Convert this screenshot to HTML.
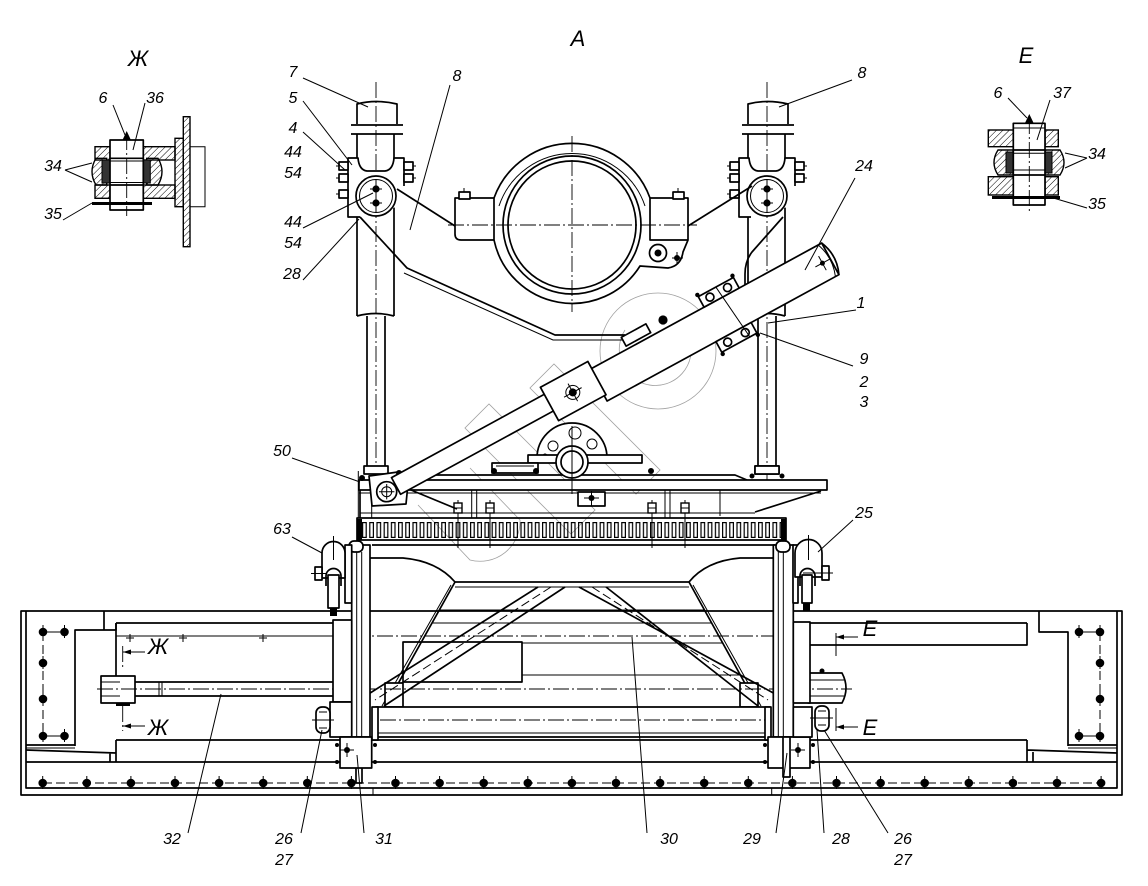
<!DOCTYPE html>
<html><head><meta charset="utf-8"><title>drawing</title>
<style>
html,body{margin:0;padding:0;background:#fff;width:1148px;height:886px;overflow:hidden}
svg{display:block}
.m{stroke:#000;stroke-width:1.7;fill:none;stroke-linejoin:round}
.mw{stroke:#000;stroke-width:1.7;fill:#fff;stroke-linejoin:round}
.t{stroke:#000;stroke-width:1;fill:none}
.tw{stroke:#000;stroke-width:1;fill:#fff}
.c{stroke:#000;stroke-width:0.9;fill:none;stroke-dasharray:16 3 2 3}
.d{stroke:#000;stroke-width:1;fill:none;stroke-dasharray:9 4}
.hx{stroke:#000;stroke-width:1.4;fill:url(#h)}
.bk{fill:#000;stroke:none}
.wm{stroke:#a0a0a0;stroke-width:0.8;fill:none}
text{font-family:"Liberation Sans","DejaVu Sans",sans-serif;font-style:italic;fill:#000;text-anchor:middle}
.n{font-size:16px}
.v{font-size:22px}
</style></head><body>
<svg width="1148" height="886" viewBox="0 0 1148 886" xmlns="http://www.w3.org/2000/svg">
<defs>
<pattern id="h" width="4.5" height="4.5" patternUnits="userSpaceOnUse" patternTransform="rotate(45)">
<line x1="0" y1="0" x2="0" y2="4.5" stroke="#000" stroke-width="1"/>
</pattern>
<pattern id="teeth" x="362" y="522" width="7.2" height="16" patternUnits="userSpaceOnUse">
<rect x="0.6" y="0.6" width="3.6" height="14.8" fill="none" stroke="#000" stroke-width="1.2"/>
</pattern>
<g id="bolt"><circle r="4.3" fill="#000"/><line x1="0" y1="-7" x2="0" y2="6" stroke="#000" stroke-width="1"/></g>
<g id="nut"><rect x="-4" y="-5" width="8" height="10" fill="#fff" stroke="#000" stroke-width="1.4"/><line x1="-4" y1="0" x2="4" y2="0" stroke="#000" stroke-width="1"/></g>
</defs>

<!-- ===== watermark (light) ===== -->
<g class="wm">
<circle cx="658" cy="351" r="58"/>
<path d="M625,330 A36,36 0 1 0 690,340"/>
<rect x="520" y="412" width="150" height="34" transform="rotate(45 595 429)"/>
<rect x="455" y="452" width="150" height="34" transform="rotate(45 530 469)"/>
<path d="M418,505 L470,560 A40,40 0 0 0 520,520 L470,468"/>
</g>

<!-- ===== left column ===== -->
<g id="colL">
<path class="c" d="M376,82 V484"/>
<path class="m" d="M357,124 V104 Q376,99 397,104 V124"/>
<path class="m" d="M351,125 H403 M351,134 H403"/>
<path class="m" d="M357,134 V316 M394,134 V316 M357,316 Q376,311 394,316"/>
<path class="m" d="M367,316 V466 M385,316 V466"/>
<rect class="mw" x="364" y="466" width="24" height="8"/>
<path fill="#fff" d="M348,217 V158 H358 Q359,170 367,171 H385 Q393,170 394,158 H404 V205 L360,217 Z"/>
<path class="m" d="M360,217 H348 V158 H358 Q359,170 367,171 H385 Q393,170 394,158 H404 V186"/>
<circle class="mw" cx="376" cy="196" r="20"/>
<circle class="t" cx="376" cy="196" r="16.5"/>
<circle class="bk" cx="376" cy="189" r="3.6"/>
<circle class="bk" cx="376" cy="203" r="3.6"/>
<path class="t" d="M370,189 H382 M370,203 H382 M376,180 V212"/>
<rect class="mw" x="339" y="162" width="9" height="8"/>
<rect class="mw" x="339" y="174" width="9" height="8"/>
<rect class="mw" x="339" y="190" width="9" height="8"/>
<rect class="mw" x="404" y="162" width="9" height="8"/>
<rect class="mw" x="404" y="174" width="9" height="8"/>
<path class="t" d="M336,166 H339 M336,178 H339 M336,194 H339 M413,166 H416 M413,178 H416"/>
</g>
<use href="#colL" transform="translate(391,0)"/>

<!-- ===== arm 8 ===== -->
<path class="m" d="M397,189 L455,226"/>
<path class="m" d="M360,217 L407,268 L555,335 H625"/>
<path class="t" d="M404,273 L553,340 H622"/>
<path class="m" d="M752,186 L688,226"/>
<path class="m" d="M783,217 L752,252 Q745,261 745,274 V298"/>

<!-- ===== pipe clamp ===== -->
<path class="mw" d="M494,198 A83,83 0 0 1 650,198"/>
<path class="t" d="M499,206 A77,77 0 0 1 645,206"/>
<circle class="mw" cx="572" cy="225" r="69"/>
<circle class="m" cx="572" cy="225" r="64"/>
<path class="mw" d="M494,198 H455 V234 Q455,240 461,240 H494 Z"/>
<path class="mw" d="M650,198 H688 V240 H650 Z"/>
<path class="m" d="M494,240 A80,80 0 0 0 640,266 L668,268 Q681,266 683,252 L688,240"/>
<rect class="mw" x="459" y="192" width="11" height="7"/>
<rect class="mw" x="673" y="192" width="11" height="7"/>
<path class="t" d="M464,188 V192 M678,188 V192"/>
<circle class="mw" cx="658" cy="253" r="8.5"/>
<circle class="bk" cx="658" cy="253" r="3.5"/>
<circle class="bk" cx="677" cy="258" r="3"/>
<path class="t" d="M672,258 H683 M677,252 V264"/>
<path class="c" d="M572,136 V312 M448,225 H697"/>

<!-- ===== turntable ===== -->
<path class="m" d="M405,475 H735 L747,480"/>
<path class="mw" d="M359,480 H827 V490 H359 Z"/>
<path class="t" d="M359,493 H821"/>
<path class="m" d="M360,490 V518 M821,491 L755,512"/>
<path class="t" d="M360,513 H755"/>
<path class="t" d="M471.7,490 V518 M476.7,490 V518 M665,490 V518 M670,490 V518 M720,490 V516"/>
<rect class="mw" x="578" y="492" width="27" height="14"/>
<circle class="bk" cx="591.5" cy="498" r="3"/>
<path class="t" d="M584,498 H599 M591.5,491 V506"/>
<!-- gearbox -->
<path class="mw" d="M537,458 A35,35 0 0 1 607,458 Z"/>
<circle class="t" cx="553" cy="446" r="5"/>
<circle class="t" cx="575" cy="433" r="6"/>
<circle class="t" cx="592" cy="444" r="5"/>
<circle class="bk" cx="545" cy="456" r="2.5"/>
<rect class="mw" x="528" y="455" width="114" height="8"/>
<circle class="mw" cx="572" cy="462" r="16"/>
<circle class="m" cx="572" cy="462" r="11"/>
<rect class="mw" x="492" y="463" width="46" height="10"/>
<path class="t" d="M496,466 H534"/>
<circle class="bk" cx="494" cy="471" r="3"/>
<circle class="bk" cx="536" cy="471" r="3"/>
<circle class="bk" cx="651" cy="471" r="3"/>
<path class="t" d="M572,426 V494"/>
<!-- frame bolts -->
<path class="t" d="M458,500 V548 M490,500 V548 M652,500 V548 M685,500 V548"/>
<use href="#nut" x="458" y="508"/><use href="#nut" x="490" y="508"/>
<use href="#nut" x="652" y="508"/><use href="#nut" x="685" y="508"/>
<!-- gear -->
<rect class="m" x="357" y="518" width="429" height="22"/>
<rect x="359" y="522" width="424" height="16" fill="url(#teeth)"/>
<rect class="bk" x="357" y="519" width="5" height="21"/>
<rect class="bk" x="781" y="519" width="5" height="21"/>
<path class="m" d="M372,545 H775"/>
<!-- pivot 50 -->
<path class="t" d="M358.3,471 V518 M371.7,483 V518"/>
<path class="mw" d="M369,476 L398,472 L408,484 L406,504 L372,506 Z"/>
<circle class="mw" cx="386.7" cy="491.7" r="10"/>
<path class="t" d="M379,491.7 H394.4 M386.7,484 V499.4"/>
<circle class="t" cx="386.7" cy="491.7" r="5"/>
<circle class="bk" cx="362" cy="478" r="3"/>
<circle class="bk" cx="399" cy="473" r="3"/>
<path class="m" d="M411,490 L457,509"/>
<!-- right column foot -->
<rect class="mw" x="755" y="466" width="24" height="8"/>
<circle class="bk" cx="752" cy="476" r="2.5"/>
<circle class="bk" cx="782" cy="476" r="2.5"/>

<!-- ===== boom 24 ===== -->
<g transform="translate(395,475.7) rotate(-28.6)">
<rect class="mw" x="-4" y="0" width="176" height="19"/>
<rect class="mw" x="222" y="0" width="264" height="36"/>
<path class="m" d="M486,0 Q494,18 486,36"/>
<path class="t" d="M482,0 Q489,18 482,36"/>
<rect class="mw" x="170" y="-8" width="54" height="38"/>
<circle class="t" cx="196" cy="12" r="7"/>
<circle class="bk" cx="196" cy="12" r="4"/>
<path class="t" d="M186,12 H206 M196,2 V22"/>
<path class="t" d="M469,18 H485 M477,10 V26"/>
<circle class="bk" cx="477" cy="18" r="2.5"/>
<rect class="mw" x="352" y="-12" width="40" height="12"/>
<circle class="mw" cx="362" cy="-6" r="4"/>
<circle class="mw" cx="382" cy="-6" r="4"/>
<rect class="mw" x="346" y="36" width="40" height="12"/>
<circle class="mw" cx="356" cy="42" r="4"/>
<circle class="mw" cx="376" cy="42" r="4"/>
<path class="t" d="M372,-12 L378,48"/>
<circle class="bk" cx="352" cy="-14" r="2.2"/><circle class="bk" cx="392" cy="-14" r="2.2"/>
<circle class="bk" cx="346" cy="50" r="2.2"/><circle class="bk" cx="386" cy="50" r="2.2"/>
</g>
<rect class="mw" x="622" y="330" width="28" height="10" transform="rotate(-28.6 636 335)"/>
<circle class="bk" cx="663" cy="320" r="4.6"/>

<!-- ===== lower frame ===== -->
<rect class="m" x="21" y="611" width="1101" height="184"/>
<path class="m" d="M26,611 V788 H1117 V611"/>
<!-- left end -->
<path class="m" d="M104,611 V630 H75 V746 M75,630 H116 V623"/>
<path class="m" d="M26,745 H75"/><path class="t" d="M26,748 H75"/>
<path class="m" d="M26,750 L116,753 M26,762 H116 M116,740 V762 M110,752 V762"/>
<path class="t" d="M43,632 H64.5 M43,736 H64.5"/>
<path class="d" d="M43,632 V736"/>
<use href="#bolt" x="43" y="632"/><use href="#bolt" x="64.5" y="632"/>
<use href="#bolt" x="43" y="663"/><use href="#bolt" x="43" y="699"/>
<use href="#bolt" x="43" y="736"/><use href="#bolt" x="64.5" y="736"/>
<!-- right end -->
<path class="m" d="M1039,611 V632 H1068 V746"/>
<path class="m" d="M1068,745 H1117"/><path class="t" d="M1068,748 H1117"/>
<path class="m" d="M1027,750 L1117,753 M1027,762 H1117 M1027,740 V762 M1033,752 V762"/>
<path class="t" d="M1079,632 H1100 M1079,736 H1100"/>
<path class="d" d="M1100,632 V736"/>
<use href="#bolt" x="1079" y="632"/><use href="#bolt" x="1100" y="632"/>
<use href="#bolt" x="1100" y="663"/><use href="#bolt" x="1100" y="699"/>
<use href="#bolt" x="1079" y="736"/><use href="#bolt" x="1100" y="736"/>
<!-- rails -->
<path class="m" d="M116,623 H333 M810,623 H1027 M810,645 H1027 V623"/>
<path class="t" d="M116,636 H333"/>
<path class="m" d="M116,623 V676"/>
<path class="m" d="M116,740 H1027 M116,762 H1027"/>
<!-- rod 32 -->
<path class="m" d="M135,682 H333 M135,696 H333"/>
<path class="t" d="M159,682 V696 M162,682 V696"/>
<rect class="mw" x="101" y="676" width="34" height="27"/>
<path class="t" d="M101,682 H120 M101,696 H120"/>
<rect class="bk" x="116" y="703" width="14" height="3"/>
<path class="t" d="M126,638 H134 M130,634 V642 M179,638 H187 M183,634 V642 M259,638 H267 M263,634 V642"/>
<!-- right clevis -->
<path class="mw" d="M808,673 H842 Q850,688 842,703 H808 Z"/>
<path class="t" d="M808,680 H844 M808,696 H844"/>
<circle class="bk" cx="822" cy="671" r="2.5"/>
<!-- middle structure -->
<path class="m" d="M370,558 H403 Q437,561 455,582 M773,558 H740 Q706,561 689,582"/>
<path class="m" d="M455,582 H689"/>
<path class="t" d="M455,587 H689"/>
<path class="m" d="M455,582 L385,707 M689,582 L758,707"/>
<path class="t" d="M451,585 L382,706 M693,585 L761,706"/>
<path class="t" d="M439,610 H705 M432,623 H712 M522,643 H723 M522,675 H741"/>
<rect class="m" x="403" y="642" width="119" height="40"/>
<rect class="mw" x="385" y="683" width="18" height="24"/>
<rect class="mw" x="740" y="683" width="18" height="24"/>
<path class="m" d="M538,587 L367,695 M565,587 L384,706 M579,587 L777,695 M606,587 L758,706"/>
<path class="d" d="M551,587 L375,700 M592,587 L768,700"/>
<rect class="mw" x="376" y="707" width="394" height="30"/>
<path class="t" d="M376,733 H770"/>
<path class="c" d="M353,636 H777 M97,689 H852 M380,720 H765"/>
<rect class="mw" x="372" y="707" width="6" height="33"/>
<rect class="mw" x="765" y="707" width="6" height="33"/>
<!-- left post -->
<rect class="mw" x="351.7" y="545" width="18.3" height="192"/>
<path class="t" d="M356.7,552 V737 M361.7,552 V737"/>
<rect class="mw" x="356" y="737" width="6" height="46"/>
<rect class="mw" x="333" y="620" width="18.7" height="82"/>
<rect class="mw" x="330" y="702" width="21.7" height="35"/>
<rect class="mw" x="316" y="707" width="14" height="26" rx="6"/>
<path class="t" d="M319,712 H327 M319,720 H327 M319,728 H327 M312,720 H334"/>
<rect class="mw" x="340" y="737" width="31.7" height="31"/>
<circle class="bk" cx="347" cy="750" r="3"/>
<path class="t" d="M340,750 H354 M347,743 V757"/>
<circle class="bk" cx="337" cy="745" r="2"/><circle class="bk" cx="337" cy="762" r="2"/>
<circle class="bk" cx="375" cy="745" r="2"/><circle class="bk" cx="375" cy="762" r="2"/>
<rect class="mw" x="349" y="541" width="14" height="11" rx="5"/>
<rect class="mw" x="345" y="545" width="6.7" height="58"/>
<!-- left roller 63 -->
<path class="mw" d="M322,578 V553 A11.5,11.5 0 0 1 345,553 V578 Z"/>
<rect class="mw" x="328" y="575" width="11" height="33"/>
<path class="m" d="M326,586 V576 A7.5,7.5 0 0 1 341,576 V586"/>
<rect class="mw" x="315" y="567" width="7" height="13"/>
<path class="t" d="M311,573.5 H326 M333.5,536 V560"/>
<rect class="bk" x="330" y="608" width="7" height="8"/>
<!-- right post -->
<rect class="mw" x="773.3" y="545" width="20" height="192"/>
<path class="t" d="M778.3,552 V737 M783.3,552 V737"/>
<rect class="mw" x="768" y="737" width="42" height="31"/>
<rect class="mw" x="783" y="737" width="7" height="40"/>
<circle class="bk" cx="798" cy="750" r="3"/>
<path class="t" d="M791,750 H805 M798,743 V757"/>
<circle class="bk" cx="765" cy="745" r="2"/><circle class="bk" cx="765" cy="762" r="2"/>
<circle class="bk" cx="813" cy="745" r="2"/><circle class="bk" cx="813" cy="762" r="2"/>
<rect class="mw" x="793.3" y="622" width="16.7" height="81"/>
<rect class="mw" x="793.3" y="707" width="18.7" height="30"/>
<rect class="mw" x="815" y="706" width="14" height="25" rx="6"/>
<path class="t" d="M818,711 H826 M818,718 H826 M818,725 H826 M810,718 H833"/>
<rect class="mw" x="776" y="541" width="14" height="11" rx="5"/>
<rect class="mw" x="793" y="545" width="5" height="58"/>
<!-- right roller 25 -->
<path class="mw" d="M795,577 V553 A13.5,13.5 0 0 1 822,553 V577 Z"/>
<rect class="mw" x="802" y="575" width="10" height="28"/>
<path class="m" d="M800,586 V576 A7.5,7.5 0 0 1 815,576 V586"/>
<rect class="mw" x="822" y="566" width="7" height="14"/>
<path class="t" d="M803,573 H833 M808.5,535 V560"/>
<rect class="bk" x="803" y="603" width="7" height="8"/>
<!-- bottom ticks -->
<path class="t" d="M373,788 V795 M771.7,788 V795"/>
<!-- bottom bolts -->
<path class="d" d="M43,783 H1101"/>
<use href="#bolt" x="42.7" y="783"/><use href="#bolt" x="86.8" y="783"/><use href="#bolt" x="130.9" y="783"/>
<use href="#bolt" x="175" y="783"/><use href="#bolt" x="219.1" y="783"/><use href="#bolt" x="263.2" y="783"/>
<use href="#bolt" x="307.3" y="783"/><use href="#bolt" x="351.4" y="783"/><use href="#bolt" x="395.5" y="783"/>
<use href="#bolt" x="439.6" y="783"/><use href="#bolt" x="483.7" y="783"/><use href="#bolt" x="527.8" y="783"/>
<use href="#bolt" x="571.9" y="783"/><use href="#bolt" x="616" y="783"/><use href="#bolt" x="660.1" y="783"/>
<use href="#bolt" x="704.2" y="783"/><use href="#bolt" x="748.3" y="783"/><use href="#bolt" x="792.4" y="783"/>
<use href="#bolt" x="836.5" y="783"/><use href="#bolt" x="880.6" y="783"/><use href="#bolt" x="924.7" y="783"/>
<use href="#bolt" x="968.8" y="783"/><use href="#bolt" x="1012.9" y="783"/><use href="#bolt" x="1057" y="783"/>
<use href="#bolt" x="1101.1" y="783"/>

<!-- section marks -->
<path class="c" d="M122.7,646 V670 M122.7,706 V731"/>
<path class="t" d="M123,652 H145 M123,726 H145 M836,633 V656 M836,708 V731 M836,637 H858 M836,727 H858"/>
<path class="bk" d="M123,652 L131,649.5 L131,654.5 Z M123,726 L131,723.5 L131,728.5 Z M836,637 L844,634.5 L844,639.5 Z M836,727 L844,724.5 L844,729.5 Z"/>

<!-- ===== detail Ж ===== -->
<rect class="hx" x="183.3" y="116.7" width="6.7" height="130"/>
<rect class="hx" x="175" y="138.3" width="8.3" height="68.4"/>
<path class="t" d="M190,146.7 H205 V206.7 H190"/>
<rect class="hx" x="95" y="146.7" width="15" height="13.3"/>
<rect class="hx" x="143.3" y="146.7" width="31.7" height="13.3"/>
<rect class="hx" x="95" y="185" width="15" height="13.3"/>
<rect class="hx" x="143.3" y="185" width="31.7" height="13.3"/>
<path class="hx" d="M106.7,158.3 H96 Q88,171.7 96,185 H106.7 Z"/>
<path class="hx" d="M146.7,158.3 H158 Q166,171.7 158,185 H146.7 Z"/>
<rect x="102" y="160" width="8" height="23" fill="#333" stroke="#000"/>
<rect x="143.3" y="160" width="7" height="23" fill="#333" stroke="#000"/>
<rect class="mw" x="110" y="140" width="33.3" height="70"/>
<path class="m" d="M110,158.3 H143.3 M110,185 H143.3"/>
<path class="t" d="M110,161 H143.3 M110,182.5 H143.3"/>
<rect class="bk" x="92" y="202" width="60" height="3"/>
<path class="bk" d="M122.5,140 L126.7,131 L130.9,140 Z"/>
<path class="c" d="M126.7,134 V216"/>
<!-- ===== detail E ===== -->
<rect class="hx" x="988.3" y="130" width="25" height="16.7"/>
<rect class="hx" x="1045" y="130" width="13.3" height="16.7"/>
<rect class="hx" x="988.3" y="176.7" width="25" height="18.3"/>
<rect class="hx" x="1045" y="176.7" width="13.3" height="18.3"/>
<path class="hx" d="M1013,150 H998 Q990,162.5 998,175 H1013 Z"/>
<path class="hx" d="M1045,150 H1060 Q1068,162.5 1060,175 H1045 Z"/>
<rect x="1006" y="152" width="7" height="21" fill="#333" stroke="#000"/>
<rect x="1045" y="152" width="7" height="21" fill="#333" stroke="#000"/>
<rect class="mw" x="1013.3" y="123.3" width="31.7" height="81.7"/>
<path class="t" d="M1013.3,128 H1045"/>
<path class="m" d="M1013.3,150 H1045 M1013.3,175 H1045"/>
<path class="t" d="M1013.3,153.3 H1045 M1013.3,170 H1045"/>
<rect class="bk" x="992" y="196" width="68" height="3"/>
<path class="bk" d="M1025,123 L1029.3,114 L1033.6,123 Z"/>
<path class="c" d="M1029.3,118 V212"/>

<!-- ===== leaders ===== -->
<g class="t">
<path d="M303,78 L368,107"/>
<path d="M303,101 L352,165"/>
<path d="M303,132 L345,170"/>
<path d="M303,228 L373,193"/>
<path d="M303,280 L359,219"/>
<path d="M450,85 L410,230"/>
<path d="M852,80 L779,107"/>
<path d="M855,178 L805,270"/>
<path d="M856,310 L768,323"/>
<path d="M853,366 L760,333"/>
<path d="M292,458 L360,482"/>
<path d="M292,537 L322,553"/>
<path d="M853,520 L818,552"/>
<path d="M188,833 L221,694"/>
<path d="M301,833 L322,730"/>
<path d="M364,833 L357,755"/>
<path d="M647,833 L632,637"/>
<path d="M776,833 L787,753"/>
<path d="M824,833 L817,730"/>
<path d="M888,833 L824,730"/>
<path d="M113,105 L125,135"/>
<path d="M145,103 L133,150"/>
<path d="M65,170 L92,163 M65,170 L92,182"/>
<path d="M63,220 L92,203"/>
<path d="M1008,98 L1027,118"/>
<path d="M1050,100 L1037,140"/>
<path d="M1087,158 L1065,153 M1087,158 L1065,168"/>
<path d="M1087,208 L1050,197"/>
</g>

<!-- ===== labels ===== -->
<text class="v" x="578" y="46">А</text>
<text class="v" x="138" y="66">Ж</text>
<text class="v" x="1026" y="63">Е</text>
<text class="n" x="293" y="77">7</text>
<text class="n" x="293" y="103">5</text>
<text class="n" x="293" y="133">4</text>
<text class="n" x="293" y="157">44</text>
<text class="n" x="293" y="178">54</text>
<text class="n" x="293" y="227">44</text>
<text class="n" x="293" y="248">54</text>
<text class="n" x="292" y="279">28</text>
<text class="n" x="457" y="81">8</text>
<text class="n" x="862" y="78">8</text>
<text class="n" x="864" y="171">24</text>
<text class="n" x="861" y="308">1</text>
<text class="n" x="864" y="364">9</text>
<text class="n" x="864" y="387">2</text>
<text class="n" x="864" y="407">3</text>
<text class="n" x="282" y="456">50</text>
<text class="n" x="282" y="534">63</text>
<text class="n" x="864" y="518">25</text>
<text class="n" x="172" y="844">32</text>
<text class="n" x="284" y="844">26</text>
<text class="n" x="284" y="865">27</text>
<text class="n" x="384" y="844">31</text>
<text class="n" x="669" y="844">30</text>
<text class="n" x="752" y="844">29</text>
<text class="n" x="841" y="844">28</text>
<text class="n" x="903" y="844">26</text>
<text class="n" x="903" y="865">27</text>
<text class="n" x="103" y="103">6</text>
<text class="n" x="155" y="103">36</text>
<text class="n" x="53" y="171">34</text>
<text class="n" x="53" y="219">35</text>
<text class="n" x="998" y="98">6</text>
<text class="n" x="1062" y="98">37</text>
<text class="n" x="1097" y="159">34</text>
<text class="n" x="1097" y="209">35</text>
<text class="v" x="158" y="654">Ж</text>
<text class="v" x="158" y="735">Ж</text>
<text class="v" x="870" y="636">Е</text>
<text class="v" x="870" y="735">Е</text>
</svg>
</body></html>
